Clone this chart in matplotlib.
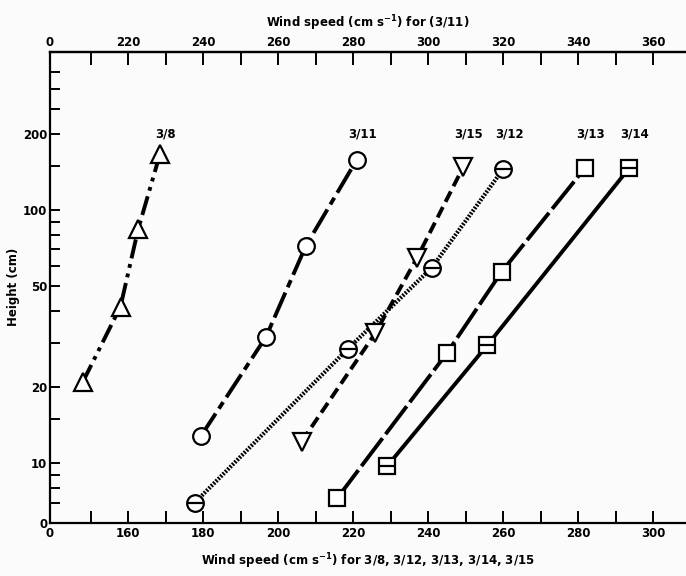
import numpy as np
import matplotlib
matplotlib.use('Agg')
import matplotlib.pyplot as plt

# values (bottom scale unless noted)
d38_speed = [147.8, 157.9, 162.6, 168.4]
d38_height = [20.9, 41.6, 84.0, 166.0]

# 3/11 is on the top scale
d311_speed = [239.3, 256.7, 267.3, 280.9]
d311_height = [12.8, 31.6, 72.1, 158.0]

d312_speed = [177.7, 218.6, 240.9, 260.0]
d312_height = [7.0, 28.4, 59.2, 145.6]

d315_speed = [206.2, 225.8, 237.0, 249.3]
d315_height = [12.2, 32.6, 64.9, 148.0]

d313_speed = [215.7, 244.9, 259.5, 281.8]
d313_height = [7.3, 27.2, 57.0, 146.8]

d314_speed = [229.0, 255.7, 293.6]
d314_height = [9.76, 29.3, 146.8]

bottom_ticks = [160, 180, 200, 220, 240, 260, 280, 300]
top_ticks = [220, 240, 260, 280, 300, 320, 340, 360]
height_ticks = [10, 20, 50, 100, 200]
height_minor = [7, 8, 9, 15, 30, 40, 60, 70, 80, 90, 150, 250, 300, 350]

TOP_OFFSET = 60  # top scale = bottom scale + 60
XMIN, XMAX = 139.1, 308.7
YMIN, YMAX = 5.82, 422.0

plt.rcParams['font.family'] = 'DejaVu Sans'
plt.rcParams['font.weight'] = 'bold'
plt.rcParams['font.size'] = 8.5

fig = plt.figure(figsize=(6.86, 5.76), dpi=100)
fig.patch.set_facecolor('#fafbfa')
ax = fig.add_axes([50/686, 1 - 523/576, 1 - 50/686, (523 - 51.7)/576])
ax.set_facecolor('#fafbfa')

mk = dict(mfc='white', mec='black', mew=1.6, color='black')

ax.plot(d38_speed, d38_height, marker='^', ms=13, lw=2.8,
        ls=(0, (5, 1.5, 1, 1.5, 1, 1.5)), **mk)
ax.plot(np.array(d311_speed) - TOP_OFFSET, d311_height, marker='o', ms=12,
        lw=2.8, ls=(0, (7, 1.5, 2, 1.5)), **mk)
ax.plot(d312_speed, d312_height, marker='o', ms=12, lw=3.0,
        ls=(0, (0.45, 0.35)), **mk)
ax.plot(d312_speed, d312_height, marker='_', ms=12, mew=1.6, ls='none',
        color='black')
ax.plot(d315_speed, d315_height, marker='v', ms=13, lw=2.8,
        ls=(0, (3, 1.5)), **mk)
ax.plot(d313_speed, d313_height, marker='s', ms=12, lw=2.8,
        ls=(0, (9, 1.3)), **mk)
ax.plot(d314_speed, d314_height, marker='s', ms=12, lw=2.8, ls='-', **mk)
ax.plot(d314_speed, d314_height, marker='_', ms=12, mew=1.6, ls='none',
        color='black')

# series names above the top points
names = ['3/8', '3/11', '3/15', '3/12', '3/13', '3/14']
last_x = [d38_speed[-1], d311_speed[-1] - TOP_OFFSET, d315_speed[-1],
          d312_speed[-1], d313_speed[-1], d314_speed[-1]]
for name, xl in zip(names, last_x):
    ax.text(xl + 1.5, 200, name, ha='center', va='center', fontsize=8.5,
            fontweight='bold')

ax.set_yscale('log')
ax.set_xlim(XMIN, XMAX)
ax.set_ylim(YMIN, YMAX)

ax.set_xticks([XMIN] + bottom_ticks)
ax.set_xticklabels(['0'] + [str(t) for t in bottom_ticks])
ax.set_xticks(np.arange(150, 300, 20), minor=True)
ax.set_yticks([YMIN] + height_ticks)
ax.set_yticklabels(['0'] + [str(t) for t in height_ticks])
ax.set_yticks(height_minor, minor=True)
ax.yaxis.set_minor_formatter(matplotlib.ticker.NullFormatter())

ax.tick_params(axis='x', which='both', direction='in', length=9, width=1.4,
               pad=3)
ax.tick_params(axis='y', which='both', direction='in', length=7, width=1.4,
               pad=2)

secx = ax.secondary_xaxis('top', functions=(lambda x: x + TOP_OFFSET,
                                            lambda x: x - TOP_OFFSET))
secx.set_xticks([XMIN + TOP_OFFSET] + top_ticks)
secx.set_xticklabels(['0'] + [str(t) for t in top_ticks])
secx.set_xticks(np.arange(210, 360, 20), minor=True)
secx.tick_params(axis='x', which='both', direction='in', length=9, width=1.4,
                 pad=2)
secx.spines['top'].set_linewidth(1.6)
secx.set_xlabel(r'Wind speed (cm s$^{-1}$) for (3/11)', fontweight='bold',
                labelpad=6)

for s in ['left', 'bottom', 'top']:
    ax.spines[s].set_linewidth(1.6)
ax.spines['right'].set_visible(False)

ax.set_xlabel(r'Wind speed (cm s$^{-1}$) for 3/8, 3/12, 3/13, 3/14, 3/15',
              fontweight='bold', labelpad=8)
ax.set_ylabel('Height (cm)', fontweight='bold', labelpad=2)

fig.savefig('out.png', dpi=100, facecolor=fig.get_facecolor())
